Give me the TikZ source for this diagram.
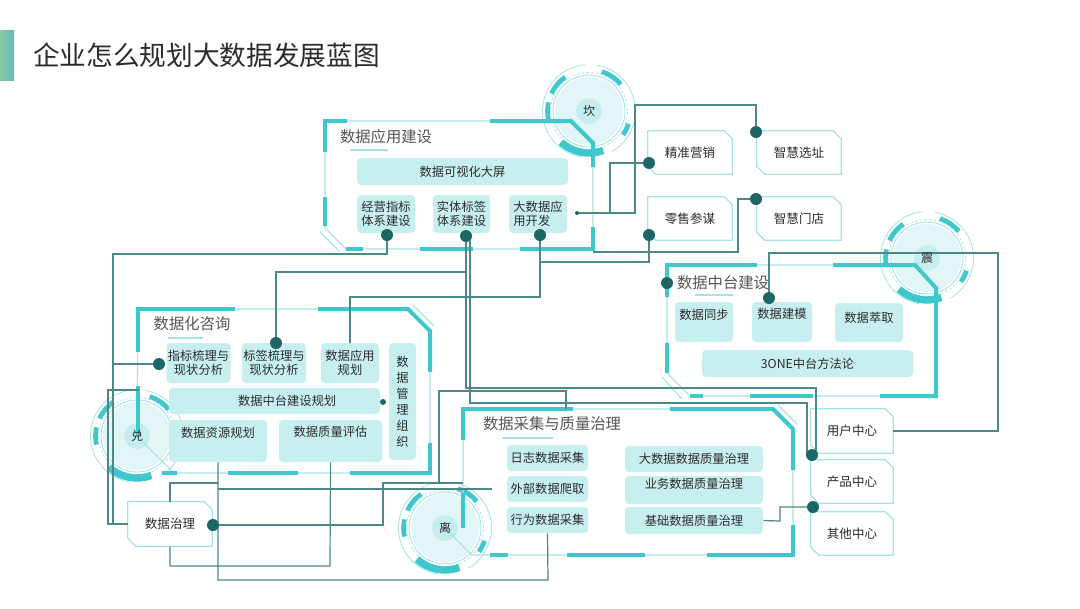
\documentclass[tikz,border=0pt]{standalone}
\usepackage{fontspec}
\setmainfont{Noto Sans CJK SC}
\usetikzlibrary{calc}
\definecolor{linec}{HTML}{4E8787}
\definecolor{dotc}{HTML}{1E6666}
\definecolor{cyanb}{HTML}{3FC8CC}
\definecolor{pale}{HTML}{A6E3E6}
\definecolor{boxfill}{HTML}{C8EFF0}
\definecolor{diskc}{HTML}{E2F6F7}
\definecolor{cdiskc}{HTML}{C6EDEE}
\definecolor{txt}{HTML}{2B2B2B}
\definecolor{ttl}{HTML}{5A5454}
\definecolor{barl}{HTML}{86CC9A}
\definecolor{barr}{HTML}{62B6C6}
\pgfdeclarelayer{bg}
\pgfsetlayers{bg,main}
\tikzset{
 box/.style={fill=boxfill, rounded corners=3pt, inner sep=1pt, text=txt, font=\fontsize{9.2}{10.8}\selectfont, align=center},
 cutbox/.style={inner sep=1pt, text=txt, font=\fontsize{9.4}{11}\selectfont, align=center},
 wh/.style 2 args={minimum width=#1*0.75pt, minimum height=#2*0.75pt},
 dot/.style={circle, fill=dotc, inner sep=0pt, minimum size=9pt},
 sdot/.style={circle, fill=dotc, inner sep=0pt, minimum size=3pt},
 conn/.style={draw=linec, line width=0.9pt},
 fthin/.style={draw=pale, line width=0.8pt},
 fthick/.style={draw=cyanb, line width=3pt},
 uline/.style={draw=pale, line width=1pt},
 ftitle/.style={text=ttl, font=\fontsize{11.5}{13}\selectfont, inner sep=0pt},
 guatext/.style={text=txt, font=\fontsize{9}{10}\selectfont, inner sep=0pt},
 cutline/.style={draw=pale, fill=white, line width=0.9pt},
 upby/.style={text height=8pt, text depth=#1},
}
\newcommand\gua[4]{%
  \node[guatext] (#1) at (#2,#3) {#4};
  \begin{pgfonlayer}{bg}
  \begin{scope}[shift={(#2,#3)}, yscale=-1]
    \fill[diskc] (0,0) circle[radius=34];
    \fill[cdiskc] (0,0) circle[radius=13];
    \draw[pale, line width=0.7pt] (0,0) circle[radius=36];
    \draw[pale, line width=0.5pt, dash pattern=on 2pt off 1.5pt] (0,0) circle[radius=38.5];
    \draw[cyanb, line width=3.5pt] (40:41.5) arc[start angle=40, end angle=72, radius=41.5];
    \draw[cyanb, line width=3.5pt] (125:41.5) arc[start angle=125, end angle=155, radius=41.5];
    \draw[cyanb, line width=3.5pt] (168:41.5) arc[start angle=168, end angle=192, radius=41.5];
    \draw[cyanb, line width=3.5pt] (-35:41.5) arc[start angle=-35, end angle=-18, radius=41.5];
    \draw[cyanb, line width=5.5pt] (-132:42) arc[start angle=-132, end angle=-70, radius=42];
    \draw[pale, line width=0.6pt] (95:46.5) arc[start angle=95, end angle=260, radius=46.5];
    \draw[pale, line width=0.6pt] (-60:46.5) arc[start angle=-60, end angle=80, radius=46.5];
  \end{scope}
  \end{pgfonlayer}}
\newcommand\cutshape[1]{\filldraw[cutline] (#1.north west) -- ([xshift=-6pt]#1.north east) -- ([yshift=-6pt]#1.north east) -- (#1.south east) -- ([xshift=6pt]#1.south west) -- ([yshift=6pt]#1.south west) -- cycle;}

\begin{document}
\begin{tikzpicture}[x=0.75pt,y=-0.75pt]
\useasboundingbox (0,0) rectangle (1080,608);
\begin{pgfonlayer}{bg}
\fill[white] (0,0) rectangle (1080,608);
\end{pgfonlayer}

% title
\fill[left color=barl, right color=barr] (0,30) rectangle (14,80);
\node[anchor=west, inner sep=0pt, text=txt, font=\fontsize{20}{24}\selectfont] (title) at (33,55) {企业怎么规划大数据发展蓝图};

% bagua circles
\gua{kan}{589}{111}{坎}
\gua{zhen}{927}{258}{震}
\gua{dui}{137}{436}{兑}
\gua{li}{445}{528}{离}

% frame titles
\node[ftitle] (tA) at (386,137) {数据应用建设};
\node[ftitle] (tC) at (192,324) {数据化咨询};
\node[ftitle] (tM) at (723,283) {数据中台建设};
\node[ftitle] (tD) at (552,424) {数据采集与质量治理};

% app boxes
\node[box, wh={211}{27}] (vis) at (462.5,171.5) {数据可视化大屏};
\node[box, wh={58}{38}] (jy) at (386,214) {经营指标\\体系建设};
\node[box, wh={57}{38}] (st) at (461.5,214) {实体标签\\体系建设};
\node[box, wh={58}{38}, align=left] (dsj) at (538,214) {大数据应\\用开发};

% right cut boxes
\node[cutbox, wh={84}{43}] (jzyx) at (690,152.5) {精准营销};
\node[cutbox, wh={84}{43}] (zhxz) at (799,152.5) {智慧选址};
\node[cutbox, wh={84}{43}] (lscm) at (690,218.5) {零售参谋};
\node[cutbox, wh={84}{43}] (zhmd) at (799,218.5) {智慧门店};

% zhongtai boxes
\node[box, wh={58}{40}, upby=11.5pt] (tb) at (704,322) {数据同步};
\node[box, wh={60}{40}, upby=13pt] (jm) at (782,322) {数据建模};
\node[box, wh={68}{39}, upby=8.5pt] (cq) at (869,322.5) {数据萃取};
\node[box, wh={211}{27}] (one) at (807.5,363.5) {3ONE中台方法论};

% consult boxes
\node[box, wh={59}{40}] (zb) at (198.5,363) {指标梳理与\\现状分析};
\node[box, wh={58}{40}] (bq) at (274,363) {标签梳理与\\现状分析};
\node[box, wh={58}{40}] (yygh) at (350,363) {数据应用\\规划};
\node[box, wh={27}{117}, font=\fontsize{9.2}{12}\selectfont] (glzz) at (402.5,401.5) {数\\据\\管\\理\\组\\织};
\node[box, wh={211}{26}] (ztgh) at (274.5,401) {\hspace*{19pt}数据中台建设规划};
\node[box, wh={98}{42}, upby=13pt] (zygh) at (218,441) {数据资源规划};
\node[box, wh={103}{42}, upby=14.5pt] (zlpg) at (330.5,441) {数据质量评估};

% collect boxes
\node[box, wh={81}{26}] (rz) at (547.5,458) {日志数据采集};
\node[box, wh={81}{26}] (wb) at (547.5,489) {外部数据爬取};
\node[box, wh={81}{26}] (xw) at (547.5,520) {行为数据采集};
\node[box, wh={138}{26}] (dsjzl) at (694,459) {大数据数据质量治理};
\node[box, wh={138}{26}, upby=11pt] (ywzl) at (694,490) {业务数据质量治理};
\node[box, wh={138}{27}] (jczl) at (694,520.5) {基础数据质量治理};

% centers + governance
\node[cutbox, wh={82}{44}] (yh) at (852,431) {用户中心};
\node[cutbox, wh={82}{43}] (cp) at (852,481.5) {产品中心};
\node[cutbox, wh={82}{43}] (qt) at (852,533.5) {其他中心};
\node[cutbox, wh={84}{44}] (gov) at (170,524) {数据治理};

% dots
\node[dot] (dA1) at (387,235) {};
\node[dot] (dA2) at (466,236) {};
\node[dot] (dA3) at (540,235) {};
\node[sdot] (dA4) at (577,213) {};
\node[dot] (dB1) at (649,163) {};
\node[dot] (dB2) at (756,132) {};
\node[dot] (dB3) at (649,235) {};
\node[dot] (dB4) at (756,199) {};
\node[dot] (dM0) at (667,283) {};
\node[dot] (dM2) at (769,298) {};
\node[dot] (dC1) at (159,364) {};
\node[dot] (dC2) at (276,343) {};
\node[sdot, minimum size=4.5pt] (dS) at (383,402) {};
\node[dot] (dP1) at (812,455) {};
\node[dot] (dP2) at (813,507) {};
\node[dot] (dG) at (213,525) {};

\begin{pgfonlayer}{bg}
% app frame
\draw[fthin] (325,228) -- (325,121) -- (571,121) -- (593,143) -- (593,249) -- (346,249) -- cycle;
\draw[fthin] (320,232) -- (339,251);
\draw[fthick] (325,152) -- (325,121) -- (347,121);
\draw[fthick] (490,121) -- (571,121) -- (593,143) -- (593,167);
\draw[fthick] (325,197) -- (325,226);
\draw[fthick] (593,227) -- (593,249) -- (520,249);
\draw[fthick] (473,249) -- (420,249);
\draw[fthick] (363,249) -- (346,249);
% consult frame
\draw[fthin] (137,436) -- (138,309) -- (408,309) -- (430,331) -- (430,473) -- (174,473) -- cycle;
\draw[fthin] (413,305) -- (434,326);
\draw[fthick] (138,352) -- (138,309) -- (235,309);
\draw[fthick] (318,309) -- (408,309) -- (430,331) -- (430,372);
\draw[fthick] (430,443) -- (430,473) -- (350,473);
\draw[fthick] (298,473) -- (228,473);
\draw[fthick] (177,473) -- (162,473);
\draw[fthick] (138,386) -- (138,436);
% collect frame
\draw[fthin] (463,528) -- (463,409) -- (773,409) -- (793,429) -- (793,555) -- (472,555) -- (445,528);
\draw[fthin] (778,405) -- (797,424);
\draw[fthick] (463,440) -- (463,409) -- (573,409);
\draw[fthick] (670,409) -- (773,409) -- (793,429) -- (793,470);
\draw[fthick] (793,525) -- (793,555) -- (707,555);
\draw[fthick] (645,555) -- (567,555);
\draw[fthick] (508,555) -- (490,555);
\draw[fthick] (463,493) -- (463,528);
% zhongtai frame
\draw[fthin] (667,373) -- (667,265) -- (915,265) -- (936,288) -- (936,396) -- (690,396) -- cycle;
\draw[fthin] (662,377) -- (682,399);
\draw[fthick] (667,297) -- (667,265) -- (757,265);
\draw[fthick] (833,265) -- (915,265) -- (936,288) -- (936,396) -- (880,396);
\draw[fthick] (667,343) -- (667,373);
\draw[fthick] (690,396) -- (703,396);
\draw[fthick] (750,396) -- (813,396);
% underlines
\draw[uline] (350,150) -- (388,150);
\draw[uline] (168,338) -- (203,338);
\draw[uline] (695,295) -- (733,295);
\draw[uline] (502,438) -- (553,438);
% cut boxes
\cutshape{jzyx}\cutshape{zhxz}\cutshape{lscm}\cutshape{zhmd}
\cutshape{yh}\cutshape{cp}\cutshape{qt}\cutshape{gov}
% connectors
\draw[conn] (dA1.center) -- (387,254) -- (113,254) -- (113,524) -- (gov.west);
\draw[conn] (113,364) -- (dC1.center);
\draw[conn] (139,390) -- (108,390) -- (108,524) -- (gov.west);
\draw[conn] (dA2.center) -- (466,272) -- (276,272) -- (dC2.center);
\draw[conn] (dA2.center) -- (466,388) -- (816,388) -- (816,455) -- (dP1.center);
\draw[conn] (470,236) -- (470,403) -- (807,403) -- (807,455) -- (dP1.center);
\draw[conn] (dA3.center) -- (540,297) -- (350,297) -- (yygh.north);
\draw[conn] (540,262) -- (649,262) -- (dB3.center);
\draw[conn] (dA4.center) -- (635,213) -- (635,105) -- (756,105) -- (dB2.center);
\draw[conn] (610,213) -- (610,163) -- (dB1.center);
\draw[conn] (dB4.center) -- (738,199) -- (738,252) -- (593,252);
\draw[conn] (dM2.center) -- (769,253) -- (998,253) -- (998,431) -- (yh.east);
\draw[conn] (jczl.east) -- (780,521) -- (780,507) -- (dP2.center);
\draw[conn] (dG.center) -- (383,525) -- (383,483) -- (463,483);
\draw[conn] (gov.north) -- (170,483) -- (218,483);
\draw[conn] (zygh.south) -- (218,580) -- (548,580) -- (xw.south);
\draw[conn] (218,489) -- (492,489);
\draw[conn] (zlpg.south) -- (330,566) -- (170,566) -- (gov.south);
\draw[conn] (439,483) -- (439,391) -- (566,391) -- (566,409);
\end{pgfonlayer}
\end{tikzpicture}
\end{document}
